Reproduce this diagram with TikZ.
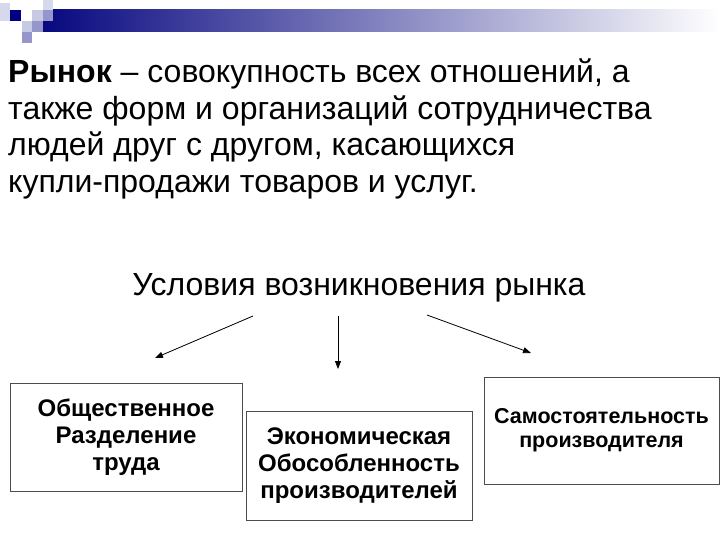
\documentclass[tikz,border=0pt]{standalone}
\usepackage{fontspec}
\setmainfont{Liberation Sans}
\usetikzlibrary{arrows.meta,positioning}
\definecolor{navybar}{RGB}{8,8,128}
\definecolor{sqlight}{RGB}{214,216,236}
\definecolor{sqpale}{RGB}{200,202,228}
\definecolor{sqmid}{RGB}{148,150,204}
\definecolor{sqdark}{RGB}{0,0,128}

\begin{document}
\begin{tikzpicture}[x=1pt, y=-1pt, font=\fontsize{32}{36.5}\selectfont]
\tikzstyle{cbox}=[draw=black!70, line width=0.7pt, align=center, inner sep=0pt, font=\fontsize{24}{26.8}\selectfont\bfseries]
\tikzstyle{arr}=[line width=0.8pt, -{Triangle[length=8pt,width=6pt]}]
\useasboundingbox (0,0) rectangle (720,540);
\fill[white] (0,0) rectangle (720,540);
% header bar and squares
\shade[left color=navybar, right color=white] (43,10) rectangle (720,32);
\fill[sqlight] (0,3) rectangle (10,21);
\fill[sqdark] (10,10) rectangle (21,21);
\fill[sqpale] (32,10) rectangle (43,21);
\fill[sqlight] (43,0) rectangle (53,10);
\fill[sqmid] (43,10) rectangle (53,21);
\fill[sqpale] (22,21) rectangle (32,32);
\fill[sqmid] (32,21) rectangle (43,32);
\fill[sqmid] (22,32) rectangle (32,43);
% text
\node[anchor=base west, align=left, inner sep=0pt] (def) at (8,192.5) {\textbf{Рынок} – совокупность всех отношений, а\\ также форм и организаций сотрудничества\\ людей друг с другом, касающихся\\ купли-продажи товаров и услуг.};
\node[anchor=base, inner sep=0pt] (cond) at (359,295) {Условия возникновения рынка};
% boxes
\node[cbox, minimum width=232pt, minimum height=108pt] (labour) at (126,437) {Общественное\\ Разделение\\ труда};
\node[cbox, minimum width=226pt, minimum height=109pt] (separ) at (359,465.5) {Экономическая\\ Обособленность\\ производителей};
\node[cbox, minimum width=235pt, minimum height=107pt, font=\fontsize{21.5}{24}\selectfont\bfseries] (indep) at (601.5,430.5) {Самостоятельность\\ производителя};
% arrows
\coordinate (lfrom) at (253,316);
\coordinate (lto) at (155,358);
\coordinate (mfrom) at (338,316);
\coordinate (mto) at (338,369);
\coordinate (rfrom) at (427,315);
\coordinate (rto) at (531,353);
\draw[arr] (lfrom) -- (lto);
\draw[arr] (mfrom) -- (mto);
\draw[arr] (rfrom) -- (rto);
\end{tikzpicture}
\end{document}
